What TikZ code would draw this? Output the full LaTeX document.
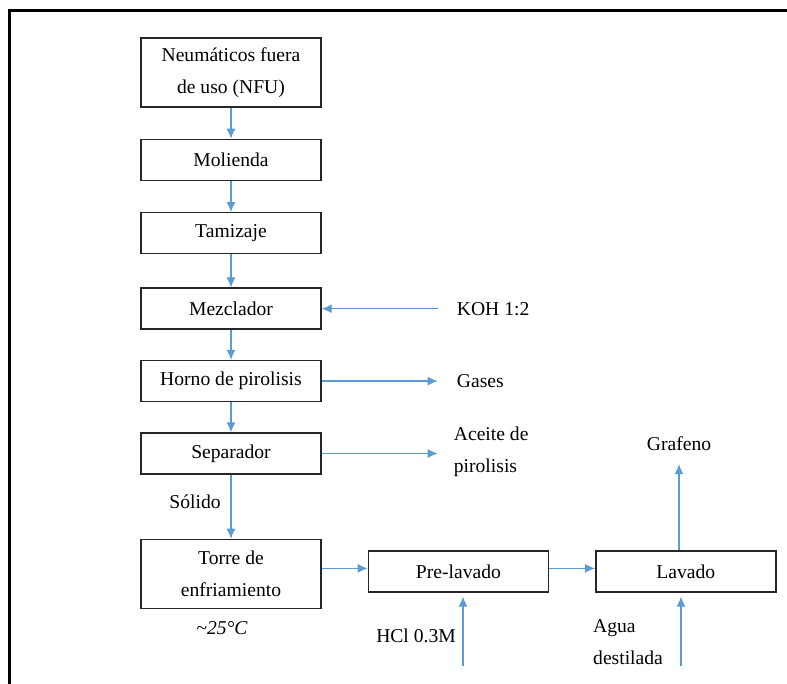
\documentclass[tikz,border=0pt]{standalone}
\usepackage{fontspec}
\setmainfont{Liberation Serif}
\usepackage{xcolor}
\usetikzlibrary{arrows.meta, positioning}
\definecolor{flowblue}{HTML}{5B9BD5}

\begin{document}
\begin{tikzpicture}[x=1pt, y=-1pt, node distance=31pt, >={Latex[length=10pt,width=9pt]},
  font=\fontsize{19.6}{32}\selectfont]
\tikzstyle{box} = [rectangle, draw=black!85, line width=1.4pt, minimum width=180pt, minimum height=41pt, inner sep=0pt, align=center]
\tikzstyle{txt} = [inner sep=0pt, align=left]
\tikzstyle{flow} = [->, line width=1.3pt, draw=flowblue, fill=flowblue]

\useasboundingbox (0,0) rectangle (787,684);
\draw[line width=3pt] (9,684) -- (9,11) -- (787,11);

% main column
\node[box, minimum height=69pt] (nfu) at (231,72.5) {Neumáticos fuera\\de uso (NFU)};
\node[box, below=of nfu] (molienda) {Molienda};
\node[box, below=of molienda] (tamizaje) {Tamizaje};
\node[box, below=33pt of tamizaje] (mezclador) {Mezclador};
\node[box, below=30pt of mezclador] (horno) {Horno de pirolisis};
\node[box, below=30pt of horno] (separador) {Separador};
\node[box, minimum height=69pt, below=64pt of separador] (torre) {Torre de\\enfriamiento};
\node[box, right=46pt of torre, yshift=2.5pt] (prelavado) {Pre-lavado};
\node[box, right=46pt of prelavado] (lavado) {Lavado};

% inputs and outputs
\node[txt, anchor=west] (koh) at ([xshift=135pt]mezclador.east) {KOH 1:2};
\node[txt, anchor=west] (gases) at ([xshift=135pt]horno.east) {Gases};
\node[txt, anchor=west] (aceite) at ([xshift=132pt,yshift=2pt]separador.east) {Aceite de\\pirolisis};
\node[txt] (solido) at (195,502) {Sólido};
\node[txt] (temp) at (222,628) {\itshape\textasciitilde 25°C};
\node[txt] (grafeno) at (679,444) {Grafeno};
\node[txt] (hcl) at (416,636) {HCl 0.3M};
\node[txt, anchor=west] (agua) at (593,642) {Agua\\destilada};
\coordinate (hclin) at (463,666);
\coordinate (aguain) at (681,666);

\draw[flow] (nfu) -- (molienda);
\draw[flow] (molienda) -- (tamizaje);
\draw[flow] (tamizaje) -- (mezclador);
\draw[flow] (mezclador) -- (horno);
\draw[flow] (horno) -- (separador);
\draw[flow] (separador) -- (torre);
\draw[flow] ([yshift=3pt]prelavado.west -| torre.east) -- ([yshift=3pt]prelavado.west);
\draw[flow] ([yshift=3pt]prelavado.east) -- ([yshift=3pt]lavado.west);
\draw[flow] ([xshift=-19pt]koh.west) -- (mezclador.east);
\draw[flow] (horno.east) -- ([xshift=-19pt]gases.west);
\draw[flow] (separador.east) -- ([xshift=-16pt]aceite.west |- separador.east);
\draw[flow] (lavado.north -| grafeno) -- ([yshift=-13pt]grafeno.south);
\draw[flow, shorten >=4pt] (hclin) -- (hclin |- prelavado.south);
\draw[flow, shorten >=4pt] (aguain) -- (aguain |- lavado.south);
\end{tikzpicture}
\end{document}
